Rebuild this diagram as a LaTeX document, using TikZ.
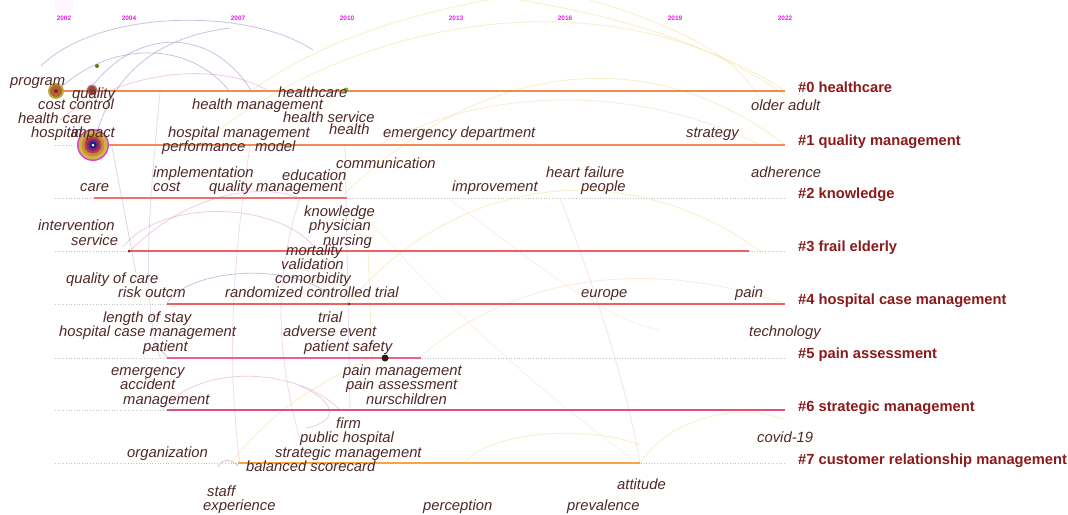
\documentclass[tikz,border=0pt]{standalone}
\usepackage{fontspec}
\setmainfont{Liberation Sans}
\definecolor{termc}{HTML}{502828}
\definecolor{clc}{HTML}{8B1A1A}
\definecolor{yearc}{HTML}{E020E0}
\definecolor{arcpurple}{HTML}{8C78C0}
\definecolor{arcpink}{HTML}{D070B0}
\definecolor{arcyellow}{HTML}{EDE08A}
\definecolor{arcorange}{HTML}{F4C890}
\definecolor{lorange}{HTML}{F28A55}
\definecolor{lred}{HTML}{F07070}
\definecolor{lred2}{HTML}{EE6068}
\definecolor{lpink}{HTML}{EE6088}
\definecolor{lmag}{HTML}{DE4F80}
\definecolor{lyorange}{HTML}{F5A545}
\definecolor{cA}{HTML}{B0B040}
\definecolor{cB}{HTML}{B86035}
\definecolor{cC}{HTML}{7A2A25}
\definecolor{cD}{HTML}{C07080}
\definecolor{cE}{HTML}{9A4A30}
\definecolor{cF}{HTML}{E040D0}
\definecolor{cG}{HTML}{C8B848}
\definecolor{cH}{HTML}{D08838}
\definecolor{cI}{HTML}{B04050}
\definecolor{cJ}{HTML}{7A2A6A}
\definecolor{cK}{HTML}{1A1A8A}
\definecolor{cL}{HTML}{707020}
\definecolor{cM}{HTML}{80B040}
\definecolor{cN}{HTML}{5A4020}
\definecolor{cO}{HTML}{2A1A0A}
\begin{document}
\begin{tikzpicture}[x=1pt,y=-1pt,
  term/.style={anchor=west,inner sep=0pt,text=termc,font=\fontsize{14.8}{15}\selectfont\itshape,text height=10.5pt,text depth=0.5pt},
  termr/.style={term,anchor=east},
  clabel/.style={anchor=west,inner sep=0pt,text=clc,font=\fontsize{14.7}{15}\selectfont\bfseries,text height=10.5pt,text depth=0.5pt},
  yearlbl/.style={inner sep=0pt,text=yearc,font=\fontsize{6.5}{7}\selectfont\bfseries},
  tline/.style={line width=2pt},
  guide/.style={draw=black!22,dotted,line width=0.7pt},
  arcp/.style={draw=arcpurple,opacity=0.45,line width=0.8pt},
  arck/.style={draw=arcpink,opacity=0.35,line width=0.8pt},
  arcy/.style={draw=arcyellow,opacity=0.45,line width=0.9pt},
  arco/.style={draw=arcorange,opacity=0.35,line width=0.8pt},
  ring/.style={circle,inner sep=0pt,draw=none}
]
\useasboundingbox (0,0) rectangle (1068,514);
\fill[white] (0,0) rectangle (1068,514);

% ---------- background citation arcs ----------
\begin{scope}
\clip (0,0) rectangle (1068,514);
\fill[yearc,opacity=0.04] (64,4) circle (10pt);
\coordinate (a1s) at (41,66);   \coordinate (a1e) at (313,50);
\coordinate (a2s) at (89,90);   \coordinate (a2e) at (252,92);
\coordinate (a3s) at (57,91);   \coordinate (a3e) at (230,92);
\coordinate (a4s) at (95,140);  \coordinate (a4e) at (230,28);
\coordinate (a5s) at (112,147); \coordinate (a5e) at (136,273);
\coordinate (a6s) at (123,247); \coordinate (a6e) at (313,245);
\coordinate (a7s) at (167,303); \coordinate (a7e) at (330,295);
\coordinate (a8s) at (162,410); \coordinate (a8e) at (340,410);
\coordinate (a9s) at (300,386); \coordinate (a9e) at (306,428);
\coordinate (a10s) at (145,352);\coordinate (a10e) at (167,357);
\coordinate (a11s) at (218,467);\coordinate (a11e) at (238,466);
\coordinate (a12s) at (60,120); \coordinate (a12e) at (270,92);
\coordinate (a13s) at (130,251);\coordinate (a13e) at (300,198);
\draw[arcp] (a1s) .. controls (100,8) and (250,8) .. (a1e);
\draw[arcp] (a2s) .. controls (140,22) and (215,30) .. (a2e);
\draw[arcp] (a3s) .. controls (110,40) and (190,40) .. (a3e);
\draw[arcp] (a4s) .. controls (110,80) and (150,38) .. (a4e);
\draw[arcp,opacity=0.3] (a5s) -- (a5e);
\draw[arck] (a6s) .. controls (160,200) and (270,200) .. (a6e);
\draw[arcp] (a7s) .. controls (190,268) and (290,262) .. (a7e);
\draw[arck] (a8s) .. controls (200,362) and (300,368) .. (a8e);
\draw[arck] (a9s) .. controls (330,398) and (345,420) .. (a9e);
\draw[arcp] (a10s) .. controls (150,344) and (160,347) .. (a10e);
\draw[arcp] (a11s) .. controls (222,458) and (232,459) .. (a11e);
\draw[arck] (a12s) .. controls (120,70) and (220,60) .. (a12e);
\draw[arck] (a13s) .. controls (180,200) and (250,180) .. (a13e);
\draw[arcp,opacity=0.25] (160,92) .. controls (150,200) and (140,300) .. (160,357);
\draw[arck,opacity=0.25] (250,145) .. controls (235,250) and (225,350) .. (240,464);
\draw[arcp,opacity=0.25] (345,145) -- (350,410);
\draw[arck,opacity=0.25] (300,198) .. controls (280,260) and (270,330) .. (300,440);
% long yellow / orange arcs
\draw[arcy] (200,145) .. controls (350,20) and (600,-30) .. (785,91);
\draw[arcy] (340,198) .. controls (480,60) and (650,40) .. (785,145);
\draw[arcy] (250,92) .. controls (400,-20) and (700,-40) .. (1000,-10);
\draw[arcy] (348,304) .. controls (450,180) and (620,150) .. (760,251);
\draw[arcy] (463,464) .. controls (490,430) and (590,425) .. (640,445);
\draw[arcy] (640,464) .. controls (665,420) and (740,400) .. (785,420);
\draw[arcy] (372,357) -- (368,250);
\draw[arcy] (520,0) .. controls (640,20) and (720,50) .. (785,95);
\draw[arcy] (590,0) .. controls (690,30) and (740,60) .. (760,100);
\draw[arco] (380,145) .. controls (500,80) and (650,90) .. (760,145);
\draw[arco] (420,357) .. controls (520,270) and (660,260) .. (785,304);
\draw[arco,opacity=0.25] (350,198) .. controls (400,260) and (520,380) .. (640,464);
\draw[arck,opacity=0.2] (560,198) .. controls (600,300) and (630,400) .. (640,464);
\draw[arcy] (230,464) .. controls (280,400) and (330,380) .. (372,357);
\draw[arco,opacity=0.25] (450,200) .. controls (520,250) and (600,320) .. (660,330);
\end{scope}

% ---------- year labels ----------
\node[yearlbl] (y02) at (64,18) {2002};
\node[yearlbl] (y04) at (129,18) {2004};
\node[yearlbl] (y07) at (238,18) {2007};
\node[yearlbl] (y10) at (347,18) {2010};
\node[yearlbl] (y13) at (456,18) {2013};
\node[yearlbl] (y16) at (565,18) {2016};
\node[yearlbl] (y19) at (675,18) {2019};
\node[yearlbl] (y22) at (785,18) {2022};

% ---------- timelines ----------
\foreach \yy in {91,145,198,251,304,358,410,463}{
  \draw[guide] (55,\yy) -- (785,\yy);
}
\coordinate (l0s) at (57,91);  \coordinate (l0e) at (785,91);
\coordinate (l1s) at (95,145); \coordinate (l1e) at (785,145);
\coordinate (l2s) at (94,198); \coordinate (l2e) at (347,198);
\coordinate (l3s) at (129,251);\coordinate (l3e) at (749,251);
\coordinate (l4s) at (167,304);\coordinate (l4e) at (785,304);
\coordinate (l5s) at (167,358);\coordinate (l5e) at (421,358);
\coordinate (l6s) at (167,410);\coordinate (l6e) at (785,410);
\coordinate (l7s) at (238,463);\coordinate (l7e) at (640,463);
\draw[tline,lorange] (l0s) -- (l0e);
\draw[tline,lorange] (l1s) -- (l1e);
\draw[tline,lred] (l2s) -- (l2e);
\draw[tline,lred2] (l3s) -- (l3e);
\draw[tline,lred2] (l4s) -- (l4e);
\draw[tline,lpink] (l5s) -- (l5e);
\draw[tline,lmag] (l6s) -- (l6e);
\draw[tline,lyorange] (l7s) -- (l7e);

% ---------- keyword circles ----------
\node[ring,fill=cA,minimum size=16pt] (cprog) at (56,91) {};
\node[ring,fill=cB,minimum size=12pt] at (cprog) {};
\node[ring,fill=cC,minimum size=4pt] at (cprog) {};
\node[ring,fill=cD,minimum size=11pt] (cqual) at (92,90) {};
\node[ring,fill=cE,minimum size=8pt] at (cqual) {};
\node[ring,fill=cF,minimum size=32pt] (cbig) at (93,145) {};
\node[ring,fill=cG,minimum size=29pt] at (cbig) {};
\node[ring,fill=cH,minimum size=23pt] at (cbig) {};
\node[ring,fill=cI,minimum size=17pt] at (cbig) {};
\node[ring,fill=cJ,minimum size=12pt] at (cbig) {};
\node[ring,fill=cK,minimum size=7pt] at (cbig) {};
\node[ring,fill=white,minimum size=3pt] at (cbig) {};
\node[ring,fill=cL,minimum size=4pt] (dtop) at (97,66) {};
\node[ring,fill=cM,minimum size=5pt] (dhc) at (346,90) {};
\node[ring,fill=cN,minimum size=3pt] (d3) at (129,251) {};
\node[ring,fill=cN,minimum size=3pt] (d4) at (349,304) {};
\node[ring,fill=cO,minimum size=7pt] (d5) at (385,358) {};

% ---------- keyword labels ----------
\node[term] (program) at (10,80) {program};
\node[term] (quality) at (72,93) {quality};
\node[term] (costcontrol) at (38,104) {cost control};
\node[term] (healthcare2) at (18,118) {health care};
\node[term] (hospital) at (31,132) {hospital};
\node[termr] (impact) at (115,132) {impact};
\node[term] (healthcare) at (278,92) {healthcare};
\node[term] (healthmgmt) at (192,104) {health management};
\node[term] (healthservice) at (283,117) {health service};
\node[term] (hospitalmgmt) at (168,132) {hospital management};
\node[term] (health) at (329,129) {health};
\node[term] (emergdept) at (383,132) {emergency department};
\node[term] (performance) at (162,146) {performance};
\node[term] (model) at (255,146) {model};
\node[term] (strategy) at (686,132) {strategy};
\node[term] (olderadult) at (751,105) {older adult};
\node[term] (implementation) at (153,172) {implementation};
\node[term] (education) at (282,175) {education};
\node[term] (communication) at (336,163) {communication};
\node[term] (care) at (80,186) {care};
\node[term] (cost) at (153,186) {cost};
\node[term] (qualitymgmt) at (209,186) {quality management};
\node[term] (improvement) at (452,186) {improvement};
\node[term] (heartfailure) at (546,172) {heart failure};
\node[term] (people) at (581,186) {people};
\node[term] (adherence) at (751,172) {adherence};
\node[term] (knowledge) at (304,211) {knowledge};
\node[term] (physician) at (309,225) {physician};
\node[term] (nursing) at (323,240) {nursing};
\node[term] (mortality) at (286,250) {mortality};
\node[term] (intervention) at (38,225) {intervention};
\node[term] (service) at (71,240) {service};
\node[term] (validation) at (281,264) {validation};
\node[term] (comorbidity) at (275,278) {comorbidity};
\node[term] (qualityofcare) at (66,278) {quality of care};
\node[term] (riskoutcm) at (118,292) {risk outcm};
\node[term] (rct) at (225,292) {randomized controlled trial};
\node[term] (europe) at (581,292) {europe};
\node[term] (pain) at (735,292) {pain};
\node[term] (lengthofstay) at (103,317) {length of stay};
\node[term] (hcm) at (59,331) {hospital case management};
\node[term] (patient) at (143,346) {patient};
\node[term] (trial) at (318,317) {trial};
\node[term] (adverseevent) at (283,331) {adverse event};
\node[term] (patientsafety) at (304,346) {patient safety};
\node[term] (technology) at (749,331) {technology};
\node[term] (emergency) at (111,370) {emergency};
\node[term] (accident) at (120,384) {accident};
\node[term] (management) at (123,399) {management};
\node[term] (painmgmt) at (343,370) {pain management};
\node[term] (painassess) at (346,384) {pain assessment};
\node[term] (nurschildren) at (366,399) {nurschildren};
\node[term] (firm) at (336,423) {firm};
\node[term] (publichospital) at (300,437) {public hospital};
\node[term] (strategicmgmt) at (275,452) {strategic management};
\node[term] (organization) at (127,452) {organization};
\node[term] (balanced) at (246,466) {balanced scorecard};
\node[term] (covid) at (757,437) {covid-19};
\node[term] (staff) at (207,491) {staff};
\node[term] (experience) at (203,505) {experience};
\node[term] (perception) at (423,505) {perception};
\node[term] (attitude) at (617,484) {attitude};
\node[term] (prevalence) at (567,505) {prevalence};

% ---------- cluster labels ----------
\node[clabel] (c0) at (798,87) {\#0 healthcare};
\node[clabel] (c1) at (798,140) {\#1 quality management};
\node[clabel] (c2) at (798,193) {\#2 knowledge};
\node[clabel] (c3) at (798,246) {\#3 frail elderly};
\node[clabel] (c4) at (798,299) {\#4 hospital case management};
\node[clabel] (c5) at (798,353) {\#5 pain assessment};
\node[clabel] (c6) at (798,406) {\#6 strategic management};
\node[clabel] (c7) at (798,459) {\#7 customer relationship management};
\end{tikzpicture}
\end{document}
